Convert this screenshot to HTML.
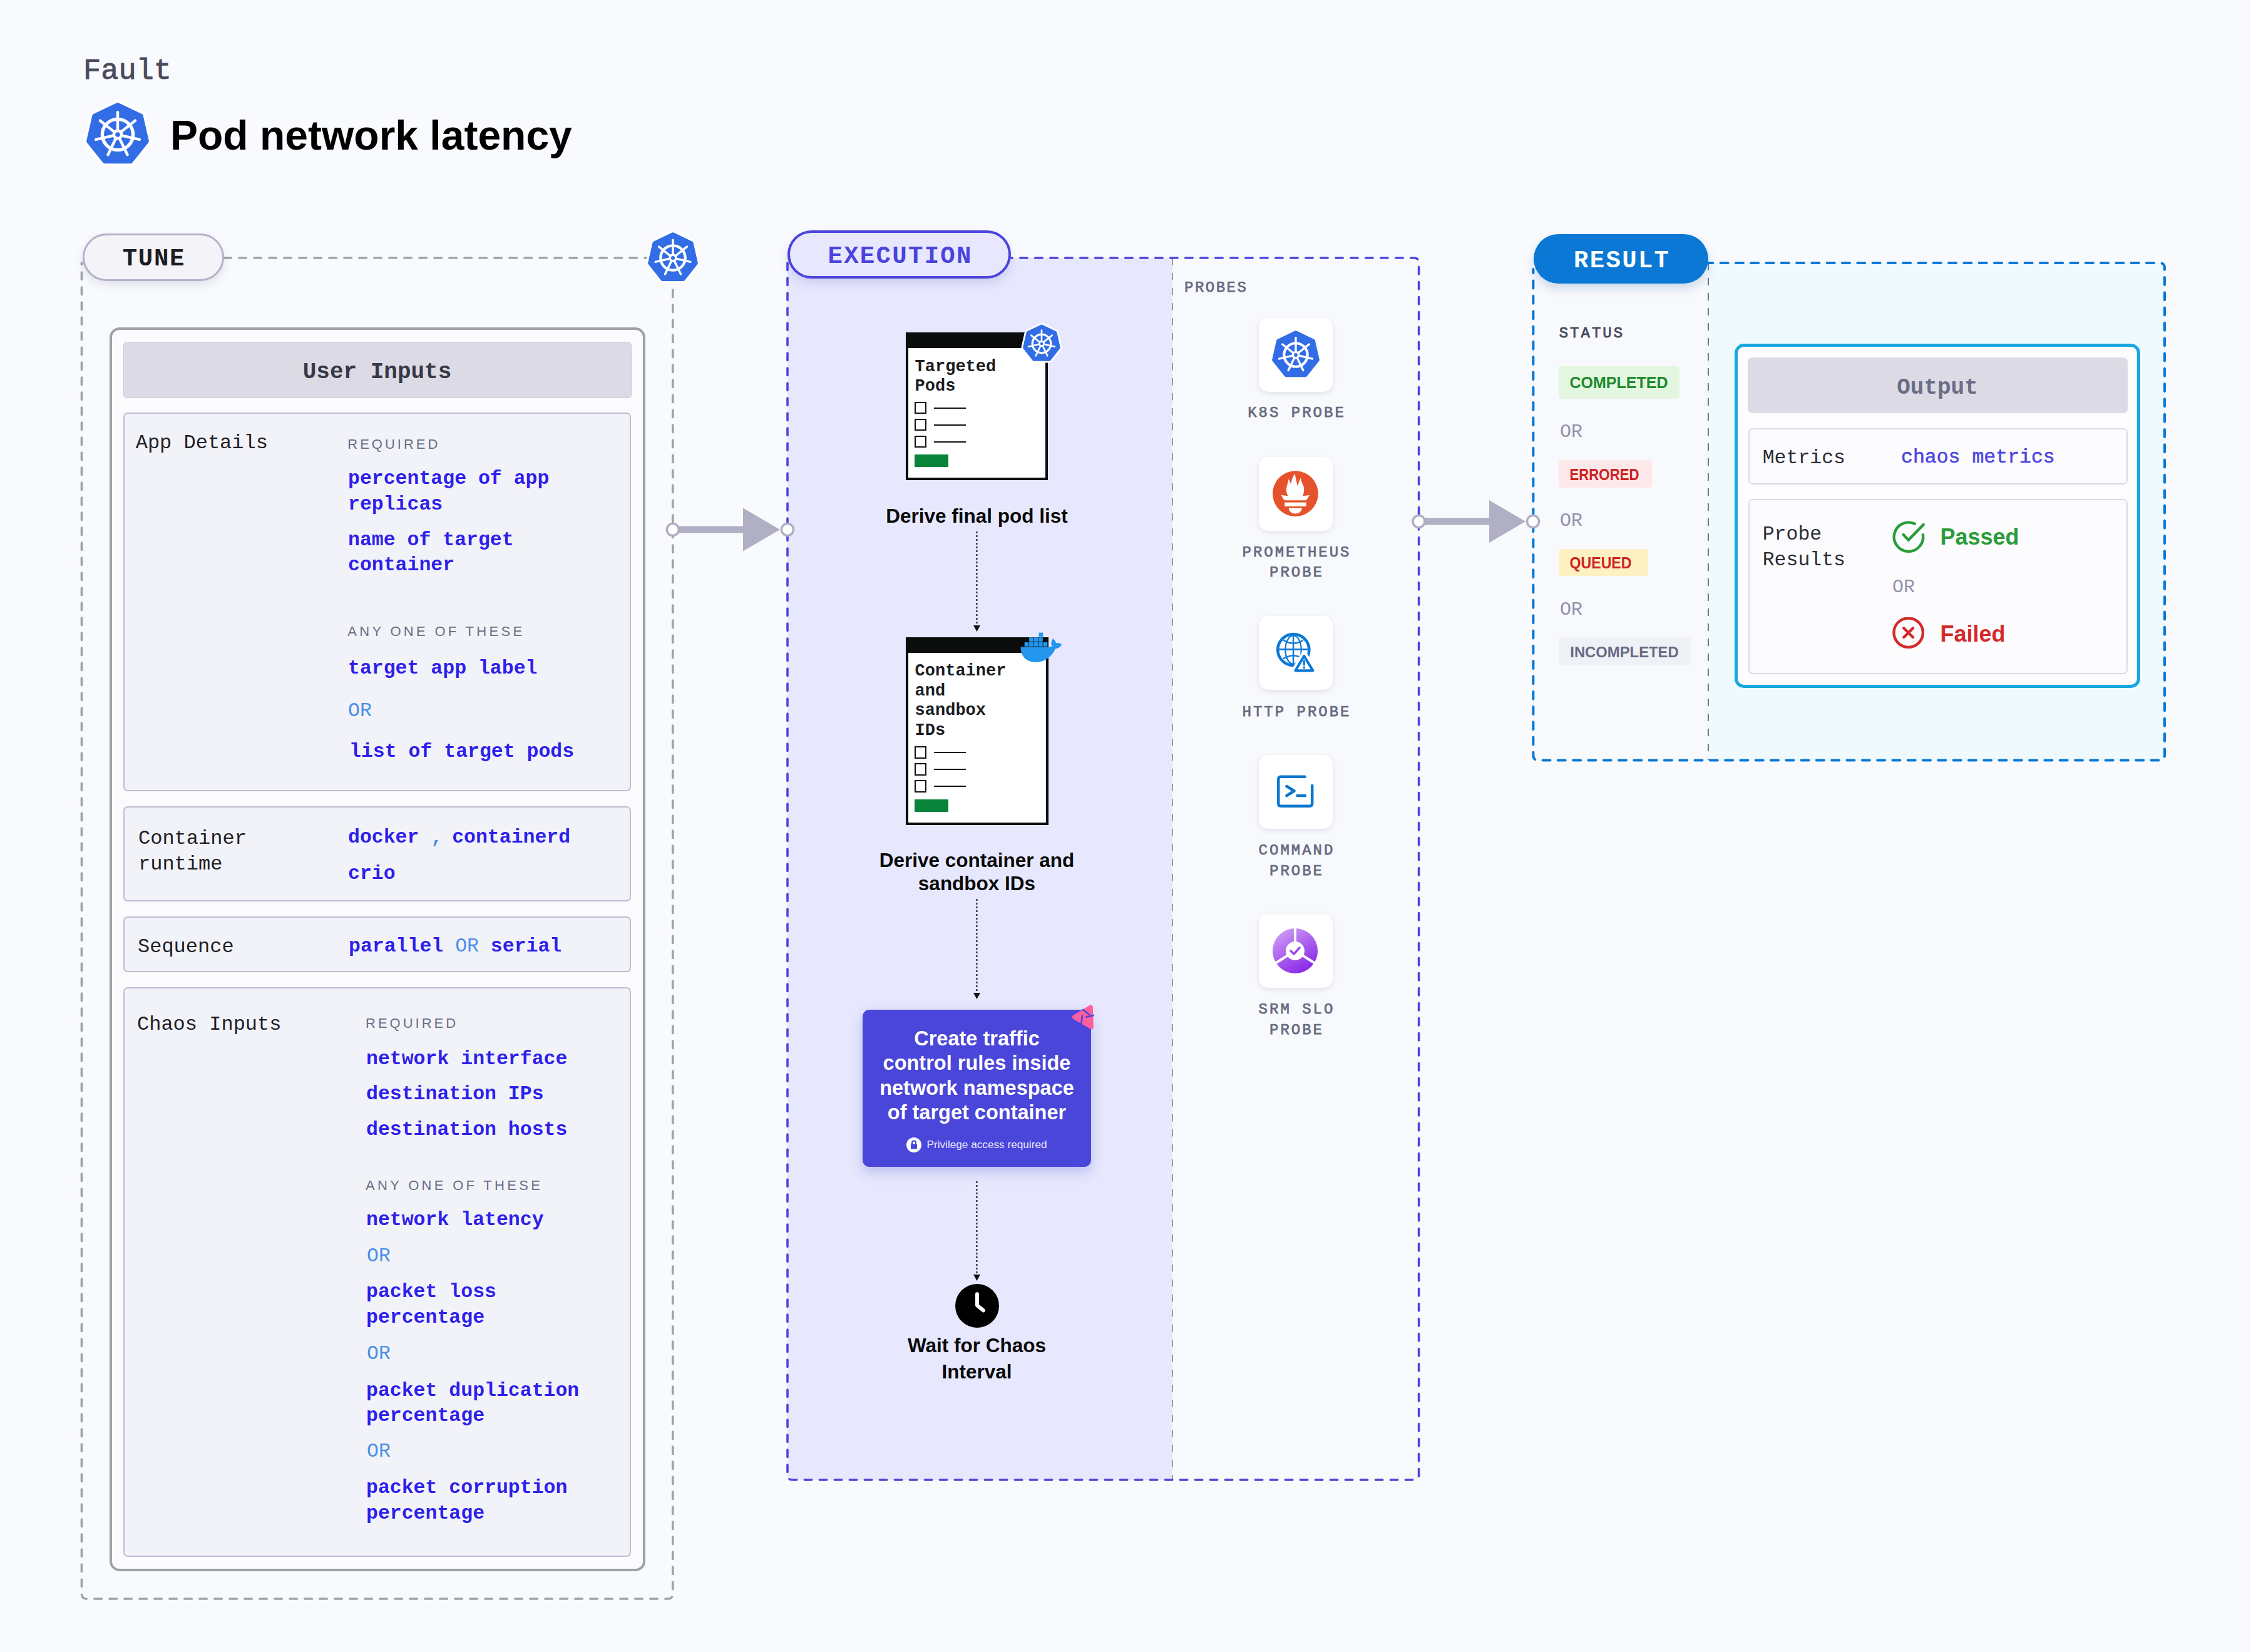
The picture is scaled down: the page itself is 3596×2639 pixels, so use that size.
<!DOCTYPE html>
<html><head><meta charset="utf-8"><style>
html,body{margin:0;padding:0;}
body{width:3596px;height:2639px;background:#f9fafe;position:relative;overflow:hidden;font-family:"Liberation Sans", sans-serif;}
.t{position:absolute;line-height:1;white-space:pre;}
.b{position:absolute;}
</style></head><body>
<div class="t" style="left:133.0px;top:90.0px;font-family:'Liberation Mono', monospace;font-size:47px;font-weight:400;color:#4a4b5c;letter-spacing:0px;-webkit-text-stroke:0.9px #4a4b5c;">Fault</div>
<svg class="b" style="left:138.0px;top:165.0px;width:100px;height:100px;overflow:visible" viewBox="-50 -50 100 100"><polygon points="0.00,-47.00 36.75,-29.30 45.82,10.46 20.39,42.35 -20.39,42.35 -45.82,10.46 -36.75,-29.30" fill="#fff" stroke="#fff" stroke-width="17" stroke-linejoin="round"/><polygon points="0.00,-47.00 36.75,-29.30 45.82,10.46 20.39,42.35 -20.39,42.35 -45.82,10.46 -36.75,-29.30" fill="#326de6" stroke="#326de6" stroke-width="8" stroke-linejoin="round"/><g stroke="#fff" fill="none" stroke-linecap="round"><circle r="24.6" stroke-width="5.4"/><g stroke-width="4.4"><line x1="0" y1="-7" x2="0" y2="-35.8" transform="rotate(0.00)"/><line x1="0" y1="-7" x2="0" y2="-35.8" transform="rotate(51.43)"/><line x1="0" y1="-7" x2="0" y2="-35.8" transform="rotate(102.86)"/><line x1="0" y1="-7" x2="0" y2="-35.8" transform="rotate(154.29)"/><line x1="0" y1="-7" x2="0" y2="-35.8" transform="rotate(205.71)"/><line x1="0" y1="-7" x2="0" y2="-35.8" transform="rotate(257.14)"/><line x1="0" y1="-7" x2="0" y2="-35.8" transform="rotate(308.57)"/></g></g><circle r="8.5" fill="#fff"/><circle r="3.8" fill="#326de6"/></svg>
<div class="t" style="left:272.0px;top:183.1px;font-family:'Liberation Sans', sans-serif;font-size:66px;font-weight:700;color:#000;letter-spacing:0px;">Pod network latency</div>
<svg class="b" style="left:0;top:0;width:3596px;height:2639px"><path d="M358 412 L1074.8 412 L1074.8 2546 Q1074.8 2554 1066.8 2554 L138.5 2554 Q130.5 2554 130.5 2546 L130.5 420" fill="none" stroke="#9ea3a9" stroke-width="3.7" stroke-dasharray="11.3 12.7" stroke-linecap="round"/></svg>
<div class="b" style="left:175px;top:523px;width:856px;height:1987px;border:4px solid #9ea2a8;border-radius:16px;background:#fbfbfe;box-sizing:border-box;"></div>
<div class="b" style="left:197px;top:546px;width:812px;height:90px;border:1.5px solid #c9c8d6;border-radius:6px;background:#dcdbe5;box-sizing:border-box;"></div>
<div class="t" style="left:-397.5px;width:2000px;text-align:center;top:577.2px;font-family:'Liberation Mono', monospace;font-size:36px;font-weight:700;color:#373845;letter-spacing:0px;">User Inputs</div>
<div class="b" style="left:197px;top:659px;width:811px;height:605px;border:2px solid #bdbccf;border-radius:7px;background:#f2f3f9;box-sizing:border-box;"></div>
<div class="b" style="left:197px;top:1288px;width:811px;height:152px;border:2px solid #bdbccf;border-radius:7px;background:#f2f3f9;box-sizing:border-box;"></div>
<div class="b" style="left:197px;top:1464px;width:811px;height:89px;border:2px solid #bdbccf;border-radius:7px;background:#f2f3f9;box-sizing:border-box;"></div>
<div class="b" style="left:197px;top:1577px;width:811px;height:910px;border:2px solid #bdbccf;border-radius:7px;background:#f2f3f9;box-sizing:border-box;"></div>
<div class="t" style="left:216.7px;top:692.1px;font-family:'Liberation Mono', monospace;font-size:32px;font-weight:400;color:#1f2024;letter-spacing:0px;">App Details</div>
<div class="t" style="left:555.3px;top:699.2px;font-family:'Liberation Sans', sans-serif;font-size:22px;font-weight:400;color:#6b6e84;letter-spacing:4.0px;">REQUIRED</div>
<div class="t" style="left:556.0px;top:749.2px;font-family:'Liberation Mono', monospace;font-size:31.5px;font-weight:700;color:#2e1fea;letter-spacing:0px;">percentage of app</div>
<div class="t" style="left:556.0px;top:789.9px;font-family:'Liberation Mono', monospace;font-size:31.5px;font-weight:700;color:#2e1fea;letter-spacing:0px;">replicas</div>
<div class="t" style="left:556.0px;top:846.6px;font-family:'Liberation Mono', monospace;font-size:31.5px;font-weight:700;color:#2e1fea;letter-spacing:0px;">name of target</div>
<div class="t" style="left:556.0px;top:887.4px;font-family:'Liberation Mono', monospace;font-size:31.5px;font-weight:700;color:#2e1fea;letter-spacing:0px;">container</div>
<div class="t" style="left:555.3px;top:998.4px;font-family:'Liberation Sans', sans-serif;font-size:22px;font-weight:400;color:#6b6e84;letter-spacing:4.3px;">ANY ONE OF THESE</div>
<div class="t" style="left:556.0px;top:1052.2px;font-family:'Liberation Mono', monospace;font-size:31.5px;font-weight:700;color:#2e1fea;letter-spacing:0px;">target app label</div>
<div class="t" style="left:556.0px;top:1119.9px;font-family:'Liberation Mono', monospace;font-size:31.5px;font-weight:400;color:#4a8fe6;letter-spacing:0px;">OR</div>
<div class="t" style="left:558.0px;top:1185.4px;font-family:'Liberation Mono', monospace;font-size:31.5px;font-weight:700;color:#2e1fea;letter-spacing:0px;">list of target pods</div>
<div class="t" style="left:221.0px;top:1323.8px;font-family:'Liberation Mono', monospace;font-size:32px;font-weight:400;color:#1f2024;letter-spacing:0px;">Container</div>
<div class="t" style="left:221.0px;top:1364.5px;font-family:'Liberation Mono', monospace;font-size:32px;font-weight:400;color:#1f2024;letter-spacing:0px;">runtime</div>
<div class="t" style="left:556.0px;top:1321.9px;font-family:'Liberation Mono', monospace;font-size:31.5px;font-weight:700;color:#2e1fea;letter-spacing:0px;">docker <span style="color:#4a8fe6;font-weight:700;letter-spacing:-4px">,</span> containerd</div>
<div class="t" style="left:556.0px;top:1379.9px;font-family:'Liberation Mono', monospace;font-size:31.5px;font-weight:700;color:#2e1fea;letter-spacing:0px;">crio</div>
<div class="t" style="left:220.0px;top:1496.5px;font-family:'Liberation Mono', monospace;font-size:32px;font-weight:400;color:#1f2024;letter-spacing:0px;">Sequence</div>
<div class="t" style="left:557.0px;top:1495.9px;font-family:'Liberation Mono', monospace;font-size:31.5px;font-weight:700;color:#2e1fea;letter-spacing:0px;">parallel <span style="color:#4a8fe6;font-weight:400">OR</span> serial</div>
<div class="t" style="left:219.0px;top:1621.2px;font-family:'Liberation Mono', monospace;font-size:32px;font-weight:400;color:#1f2024;letter-spacing:0px;">Chaos Inputs</div>
<div class="t" style="left:584.0px;top:1624.4px;font-family:'Liberation Sans', sans-serif;font-size:22px;font-weight:400;color:#6b6e84;letter-spacing:4.0px;">REQUIRED</div>
<div class="t" style="left:585.0px;top:1676.3px;font-family:'Liberation Mono', monospace;font-size:31.5px;font-weight:700;color:#2e1fea;letter-spacing:0px;">network interface</div>
<div class="t" style="left:585.0px;top:1731.9px;font-family:'Liberation Mono', monospace;font-size:31.5px;font-weight:700;color:#2e1fea;letter-spacing:0px;">destination IPs</div>
<div class="t" style="left:585.0px;top:1788.7px;font-family:'Liberation Mono', monospace;font-size:31.5px;font-weight:700;color:#2e1fea;letter-spacing:0px;">destination hosts</div>
<div class="t" style="left:584.0px;top:1883.4px;font-family:'Liberation Sans', sans-serif;font-size:22px;font-weight:400;color:#6b6e84;letter-spacing:4.3px;">ANY ONE OF THESE</div>
<div class="t" style="left:585.0px;top:1932.7px;font-family:'Liberation Mono', monospace;font-size:31.5px;font-weight:700;color:#2e1fea;letter-spacing:0px;">network latency</div>
<div class="t" style="left:586.0px;top:1991.3px;font-family:'Liberation Mono', monospace;font-size:31.5px;font-weight:400;color:#4a8fe6;letter-spacing:0px;">OR</div>
<div class="t" style="left:585.0px;top:2047.9px;font-family:'Liberation Mono', monospace;font-size:31.5px;font-weight:700;color:#2e1fea;letter-spacing:0px;">packet loss</div>
<div class="t" style="left:585.0px;top:2088.9px;font-family:'Liberation Mono', monospace;font-size:31.5px;font-weight:700;color:#2e1fea;letter-spacing:0px;">percentage</div>
<div class="t" style="left:586.0px;top:2146.9px;font-family:'Liberation Mono', monospace;font-size:31.5px;font-weight:400;color:#4a8fe6;letter-spacing:0px;">OR</div>
<div class="t" style="left:585.0px;top:2205.6px;font-family:'Liberation Mono', monospace;font-size:31.5px;font-weight:700;color:#2e1fea;letter-spacing:0px;">packet duplication</div>
<div class="t" style="left:585.0px;top:2245.9px;font-family:'Liberation Mono', monospace;font-size:31.5px;font-weight:700;color:#2e1fea;letter-spacing:0px;">percentage</div>
<div class="t" style="left:586.0px;top:2302.9px;font-family:'Liberation Mono', monospace;font-size:31.5px;font-weight:400;color:#4a8fe6;letter-spacing:0px;">OR</div>
<div class="t" style="left:585.0px;top:2361.3px;font-family:'Liberation Mono', monospace;font-size:31.5px;font-weight:700;color:#2e1fea;letter-spacing:0px;">packet corruption</div>
<div class="t" style="left:585.0px;top:2401.6px;font-family:'Liberation Mono', monospace;font-size:31.5px;font-weight:700;color:#2e1fea;letter-spacing:0px;">percentage</div>
<div class="b" style="left:132px;top:373px;width:226px;height:76px;border:3.5px solid #b3b1c8;border-radius:40px;background:#f3f3f8;box-sizing:border-box;box-shadow:0 6px 14px rgba(60,60,90,0.12);"></div>
<div class="t" style="left:-754.1px;width:2000px;text-align:center;top:395.1px;font-family:'Liberation Mono', monospace;font-size:39px;font-weight:700;color:#1c1d22;letter-spacing:1.7px;">TUNE</div>
<svg class="b" style="left:1034.5px;top:372.0px;width:80px;height:80px;overflow:visible" viewBox="-50 -50 100 100"><polygon points="0.00,-47.00 36.75,-29.30 45.82,10.46 20.39,42.35 -20.39,42.35 -45.82,10.46 -36.75,-29.30" fill="#fff" stroke="#fff" stroke-width="17" stroke-linejoin="round"/><polygon points="0.00,-47.00 36.75,-29.30 45.82,10.46 20.39,42.35 -20.39,42.35 -45.82,10.46 -36.75,-29.30" fill="#326de6" stroke="#326de6" stroke-width="8" stroke-linejoin="round"/><g stroke="#fff" fill="none" stroke-linecap="round"><circle r="24.6" stroke-width="5.4"/><g stroke-width="4.4"><line x1="0" y1="-7" x2="0" y2="-35.8" transform="rotate(0.00)"/><line x1="0" y1="-7" x2="0" y2="-35.8" transform="rotate(51.43)"/><line x1="0" y1="-7" x2="0" y2="-35.8" transform="rotate(102.86)"/><line x1="0" y1="-7" x2="0" y2="-35.8" transform="rotate(154.29)"/><line x1="0" y1="-7" x2="0" y2="-35.8" transform="rotate(205.71)"/><line x1="0" y1="-7" x2="0" y2="-35.8" transform="rotate(257.14)"/><line x1="0" y1="-7" x2="0" y2="-35.8" transform="rotate(308.57)"/></g></g><circle r="8.5" fill="#fff"/><circle r="3.8" fill="#326de6"/></svg>
<svg class="b" style="left:0;top:0;width:3596px;height:2639px"><rect x="1258" y="412" width="615" height="1952" fill="#e7e8fd"/><rect x="1873" y="412" width="393.6" height="1952" fill="#f8f9fc"/><line x1="1873" y1="412" x2="1873" y2="2364" stroke="#8e8ea0" stroke-width="1.8" stroke-dasharray="11.6 12.4"/><path d="M1258 420 L1258 2356 Q1258 2364 1266 2364 L2258.6 2364 Q2266.6 2364 2266.6 2356 L2266.6 420 Q2266.6 412 2258.6 412 L1600 412" fill="none" stroke="#4b44dc" stroke-width="3.6" stroke-dasharray="11.4 12.6" stroke-linecap="round"/></svg>
<div class="b" style="left:1258px;top:368px;width:357px;height:77px;border:4px solid #4b44dc;border-radius:40px;background:#e7e8fd;box-sizing:border-box;box-shadow:0 8px 16px rgba(60,50,160,0.14);"></div>
<div class="t" style="left:438.1px;width:2000px;text-align:center;top:390.7px;font-family:'Liberation Mono', monospace;font-size:39px;font-weight:700;color:#4b44dc;letter-spacing:2.3px;">EXECUTION</div>
<div class="b" style="left:1446.5px;top:531px;width:227.5px;height:236px;border:4px solid #0b0c0c;border-top:25px solid #0b0c0c;background:#fff;box-sizing:border-box;"></div>
<div class="t" style="left:1461.6px;top:572.5px;font-family:'Liberation Mono', monospace;font-size:27px;font-weight:700;color:#1d1d1f;letter-spacing:0px;">Targeted</div>
<div class="t" style="left:1461.6px;top:603.8px;font-family:'Liberation Mono', monospace;font-size:27px;font-weight:700;color:#1d1d1f;letter-spacing:0px;">Pods</div>
<div class="b" style="left:1460.8px;top:641.5px;width:19.5px;height:19.5px;border:2.5px solid #111;box-sizing:border-box;"></div>
<div class="b" style="left:1491.8px;top:650.5px;width:51.0px;height:2.0px;background:#111;"></div>
<div class="b" style="left:1460.8px;top:668.5px;width:19.5px;height:19.5px;border:2.5px solid #111;box-sizing:border-box;"></div>
<div class="b" style="left:1491.8px;top:677.5px;width:51.0px;height:2.0px;background:#111;"></div>
<div class="b" style="left:1460.8px;top:695.5px;width:19.5px;height:19.5px;border:2.5px solid #111;box-sizing:border-box;"></div>
<div class="b" style="left:1491.8px;top:704.5px;width:51.0px;height:2.0px;background:#111;"></div>
<div class="b" style="left:1460.8px;top:726px;width:54.0px;height:20px;background:#07843a;"></div>
<svg class="b" style="left:1633.6px;top:518.5px;width:60px;height:60px;overflow:visible" viewBox="-50 -50 100 100"><polygon points="0.00,-47.00 36.75,-29.30 45.82,10.46 20.39,42.35 -20.39,42.35 -45.82,10.46 -36.75,-29.30" fill="#fff" stroke="#fff" stroke-width="17" stroke-linejoin="round"/><polygon points="0.00,-47.00 36.75,-29.30 45.82,10.46 20.39,42.35 -20.39,42.35 -45.82,10.46 -36.75,-29.30" fill="#326de6" stroke="#326de6" stroke-width="8" stroke-linejoin="round"/><g stroke="#fff" fill="none" stroke-linecap="round"><circle r="24.6" stroke-width="5.4"/><g stroke-width="4.4"><line x1="0" y1="-7" x2="0" y2="-35.8" transform="rotate(0.00)"/><line x1="0" y1="-7" x2="0" y2="-35.8" transform="rotate(51.43)"/><line x1="0" y1="-7" x2="0" y2="-35.8" transform="rotate(102.86)"/><line x1="0" y1="-7" x2="0" y2="-35.8" transform="rotate(154.29)"/><line x1="0" y1="-7" x2="0" y2="-35.8" transform="rotate(205.71)"/><line x1="0" y1="-7" x2="0" y2="-35.8" transform="rotate(257.14)"/><line x1="0" y1="-7" x2="0" y2="-35.8" transform="rotate(308.57)"/></g></g><circle r="8.5" fill="#fff"/><circle r="3.8" fill="#326de6"/></svg>
<div class="t" style="left:560.5px;width:2000px;text-align:center;top:808.5px;font-family:'Liberation Sans', sans-serif;font-size:31.5px;font-weight:700;color:#0a0a0a;letter-spacing:0px;">Derive final pod list</div>
<div class="b" style="left:1446.5px;top:1017.6px;width:228.0999999999999px;height:300.4px;border:4px solid #0b0c0c;border-top:25.5px solid #0b0c0c;background:#fff;box-sizing:border-box;"></div>
<div class="t" style="left:1461.6px;top:1059.3px;font-family:'Liberation Mono', monospace;font-size:27px;font-weight:700;color:#1d1d1f;letter-spacing:0px;">Container</div>
<div class="t" style="left:1461.6px;top:1090.8px;font-family:'Liberation Mono', monospace;font-size:27px;font-weight:700;color:#1d1d1f;letter-spacing:0px;">and</div>
<div class="t" style="left:1461.6px;top:1122.3px;font-family:'Liberation Mono', monospace;font-size:27px;font-weight:700;color:#1d1d1f;letter-spacing:0px;">sandbox</div>
<div class="t" style="left:1461.6px;top:1154.1px;font-family:'Liberation Mono', monospace;font-size:27px;font-weight:700;color:#1d1d1f;letter-spacing:0px;">IDs</div>
<div class="b" style="left:1460.8px;top:1192px;width:19.5px;height:19.5px;border:2.5px solid #111;box-sizing:border-box;"></div>
<div class="b" style="left:1491.8px;top:1201px;width:51.0px;height:2px;background:#111;"></div>
<div class="b" style="left:1460.8px;top:1219px;width:19.5px;height:19.5px;border:2.5px solid #111;box-sizing:border-box;"></div>
<div class="b" style="left:1491.8px;top:1228px;width:51.0px;height:2px;background:#111;"></div>
<div class="b" style="left:1460.8px;top:1246px;width:19.5px;height:19.5px;border:2.5px solid #111;box-sizing:border-box;"></div>
<div class="b" style="left:1491.8px;top:1255px;width:51.0px;height:2px;background:#111;"></div>
<div class="b" style="left:1460.8px;top:1276.5px;width:54.0px;height:20.0px;background:#07843a;"></div>
<div class="t" style="left:560.5px;width:2000px;text-align:center;top:1358.9px;font-family:'Liberation Sans', sans-serif;font-size:31.5px;font-weight:700;color:#0a0a0a;letter-spacing:0px;">Derive container and</div>
<div class="t" style="left:560.5px;width:2000px;text-align:center;top:1396.3px;font-family:'Liberation Sans', sans-serif;font-size:31.5px;font-weight:700;color:#0a0a0a;letter-spacing:0px;">sandbox IDs</div>
<svg class="b" style="left:1630px;top:1010px;width:70px;height:50px;overflow:visible" viewBox="0 0 70 50"><path d="M0.4 23.6 H44.7 C47 23.6 49 23.2 50.5 22.6 C48.5 19 49.5 13 52.2 10.3 C55 12.5 56.5 15 57.1 17.3 C60 16.5 64 17.5 66 19.7 C64 23.5 61 25.8 55.9 26.2 C50 40 38 47.8 23.9 47.8 C8 47.8 1 37 0.4 23.6 Z" fill="#2496ed"/><g fill="#2496ed"><rect x="6.60" y="16.00" width="6.7" height="6.7"/><rect x="14.08" y="16.00" width="6.7" height="6.7"/><rect x="21.56" y="16.00" width="6.7" height="6.7"/><rect x="29.04" y="16.00" width="6.7" height="6.7"/><rect x="36.52" y="16.00" width="6.7" height="6.7"/><rect x="14.10" y="8.30" width="6.7" height="6.7"/><rect x="21.58" y="8.30" width="6.7" height="6.7"/><rect x="29.06" y="8.30" width="6.7" height="6.7"/><rect x="29.60" y="0.60" width="6.7" height="6.7"/></g></svg>
<svg class="b" style="left:0;top:0;width:3596px;height:2639px;overflow:visible"><line x1="1560.5" y1="849" x2="1560.5" y2="1000" stroke="#111" stroke-width="2" stroke-dasharray="3 3"/><polygon points="1555.0,999 1566.0,999 1560.5,1009" fill="#111"/></svg>
<svg class="b" style="left:0;top:0;width:3596px;height:2639px;overflow:visible"><line x1="1560.5" y1="1436" x2="1560.5" y2="1587" stroke="#111" stroke-width="2" stroke-dasharray="3 3"/><polygon points="1555.0,1586 1566.0,1586 1560.5,1596" fill="#111"/></svg>
<svg class="b" style="left:0;top:0;width:3596px;height:2639px;overflow:visible"><line x1="1560.5" y1="1887" x2="1560.5" y2="2037" stroke="#111" stroke-width="2" stroke-dasharray="3 3"/><polygon points="1555.0,2036 1566.0,2036 1560.5,2046" fill="#111"/></svg>
<div class="b" style="left:1378px;top:1613px;width:365px;height:251px;background:#4a46d9;border-radius:11px;box-shadow:0 8px 20px rgba(60,56,190,0.25);"></div>
<div class="t" style="left:560.5px;width:2000px;text-align:center;top:1642.5px;font-family:'Liberation Sans', sans-serif;font-size:32.5px;font-weight:700;color:#fff;letter-spacing:0px;">Create traffic</div>
<div class="t" style="left:560.5px;width:2000px;text-align:center;top:1682.3px;font-family:'Liberation Sans', sans-serif;font-size:32.5px;font-weight:700;color:#fff;letter-spacing:0px;">control rules inside</div>
<div class="t" style="left:560.5px;width:2000px;text-align:center;top:1722.1px;font-family:'Liberation Sans', sans-serif;font-size:32.5px;font-weight:700;color:#fff;letter-spacing:0px;">network namespace</div>
<div class="t" style="left:560.5px;width:2000px;text-align:center;top:1761.3px;font-family:'Liberation Sans', sans-serif;font-size:32.5px;font-weight:700;color:#fff;letter-spacing:0px;">of target container</div>
<svg class="b" style="left:1448px;top:1817px;width:24px;height:24px" viewBox="0 0 24 24"><circle cx="12" cy="12" r="12" fill="#fff"/><rect x="7" y="10.5" width="10" height="8" rx="1" fill="#4a46d9"/><path d="M9 11 V8.5 A3 3 0 0 1 15 8.5 V11" fill="none" stroke="#4a46d9" stroke-width="2"/></svg>
<div class="t" style="left:1480.5px;top:1820.4px;font-family:'Liberation Sans', sans-serif;font-size:17.2px;font-weight:400;color:#e8e8ff;letter-spacing:0px;">Privilege access required</div>
<svg class="b" style="left:1700px;top:1595px;width:55px;height:60px;overflow:visible" viewBox="0 0 55 60"><polygon points="42.3,14 16.5,29.7 43.3,45.6" fill="#ff5f9e" stroke="#ff5f9e" stroke-width="7" stroke-linejoin="round"/><g stroke="#4a46d9" stroke-width="2.6" stroke-linecap="round" fill="none"><line x1="29.8" y1="17.9" x2="40" y2="25.5"/><line x1="29" y1="27.2" x2="27.3" y2="41.2"/><line x1="35.3" y1="29.8" x2="46.8" y2="26.9"/></g></svg>
<svg class="b" style="left:1525.5px;top:2051px;width:70px;height:70px" viewBox="0 0 70 70"><circle cx="35" cy="35" r="35" fill="#000"/><path d="M35 16.2 L35 34.2 L45 42.4" fill="none" stroke="#fff" stroke-width="6" stroke-linecap="round" stroke-linejoin="round"/></svg>
<div class="t" style="left:560.5px;width:2000px;text-align:center;top:2134.3px;font-family:'Liberation Sans', sans-serif;font-size:31.5px;font-weight:700;color:#0a0a0a;letter-spacing:0px;">Wait for Chaos</div>
<div class="t" style="left:560.5px;width:2000px;text-align:center;top:2176.3px;font-family:'Liberation Sans', sans-serif;font-size:31.5px;font-weight:700;color:#0a0a0a;letter-spacing:0px;">Interval</div>
<div class="t" style="left:1892.0px;top:448.4px;font-family:'Liberation Mono', monospace;font-size:24px;font-weight:400;color:#666a80;letter-spacing:2.5px;-webkit-text-stroke:0.75px #666a80;">PROBES</div>
<div class="b" style="left:2010.5px;top:507.6px;width:118.0px;height:118.0px;background:#fff;border-radius:15px;box-shadow:0 3px 8px rgba(40,40,80,0.10);"></div>
<div class="b" style="left:2010.5px;top:730px;width:118.0px;height:118px;background:#fff;border-radius:15px;box-shadow:0 3px 8px rgba(40,40,80,0.10);"></div>
<div class="b" style="left:2010.5px;top:984px;width:118.0px;height:118px;background:#fff;border-radius:15px;box-shadow:0 3px 8px rgba(40,40,80,0.10);"></div>
<div class="b" style="left:2010.5px;top:1206px;width:118.0px;height:118px;background:#fff;border-radius:15px;box-shadow:0 3px 8px rgba(40,40,80,0.10);"></div>
<div class="b" style="left:2010.5px;top:1460px;width:118.0px;height:118px;background:#fff;border-radius:15px;box-shadow:0 3px 8px rgba(40,40,80,0.10);"></div>
<svg class="b" style="left:2031.5px;top:529.0px;width:76px;height:76px;overflow:visible" viewBox="-50 -50 100 100"><polygon points="0.00,-47.00 36.75,-29.30 45.82,10.46 20.39,42.35 -20.39,42.35 -45.82,10.46 -36.75,-29.30" fill="#fff" stroke="#fff" stroke-width="17" stroke-linejoin="round"/><polygon points="0.00,-47.00 36.75,-29.30 45.82,10.46 20.39,42.35 -20.39,42.35 -45.82,10.46 -36.75,-29.30" fill="#326de6" stroke="#326de6" stroke-width="8" stroke-linejoin="round"/><g stroke="#fff" fill="none" stroke-linecap="round"><circle r="24.6" stroke-width="5.4"/><g stroke-width="4.4"><line x1="0" y1="-7" x2="0" y2="-35.8" transform="rotate(0.00)"/><line x1="0" y1="-7" x2="0" y2="-35.8" transform="rotate(51.43)"/><line x1="0" y1="-7" x2="0" y2="-35.8" transform="rotate(102.86)"/><line x1="0" y1="-7" x2="0" y2="-35.8" transform="rotate(154.29)"/><line x1="0" y1="-7" x2="0" y2="-35.8" transform="rotate(205.71)"/><line x1="0" y1="-7" x2="0" y2="-35.8" transform="rotate(257.14)"/><line x1="0" y1="-7" x2="0" y2="-35.8" transform="rotate(308.57)"/></g></g><circle r="8.5" fill="#fff"/><circle r="3.8" fill="#326de6"/></svg>
<div class="t" style="left:1071.5px;width:2000px;text-align:center;top:648.4px;font-family:'Liberation Mono', monospace;font-size:24px;font-weight:400;color:#666a80;letter-spacing:3px;-webkit-text-stroke:0.75px #666a80;">K8S PROBE</div>
<svg class="b" style="left:2033.1px;top:752.4px;width:72.8px;height:73.2px" viewBox="148 135 1337 1345"><circle cx="816.5" cy="807.5" r="668.5" fill="#e6522c"/><path d="M605 880 C555 800 540 700 555 640 C575 560 600 470 615 380 C650 430 675 490 685 545 C700 440 720 330 805 218 C810 330 860 470 885 600 C900 510 930 420 975 340 C985 440 1030 520 1060 600 C1080 700 1070 800 1025 880 L1230 845 C1200 910 1170 960 1130 1005 L500 1005 C460 960 430 910 400 845 Z" fill="#fff"/><rect x="500" y="1065" width="635" height="115" fill="#fff"/><path d="M620 1235 H1010 A195 160 0 0 1 620 1235 Z" fill="#fff"/></svg>
<div class="t" style="left:1071.5px;width:2000px;text-align:center;top:870.9px;font-family:'Liberation Mono', monospace;font-size:24px;font-weight:400;color:#666a80;letter-spacing:3px;-webkit-text-stroke:0.75px #666a80;">PROMETHEUS</div>
<div class="t" style="left:1071.5px;width:2000px;text-align:center;top:903.2px;font-family:'Liberation Mono', monospace;font-size:24px;font-weight:400;color:#666a80;letter-spacing:3px;-webkit-text-stroke:0.75px #666a80;">PROBE</div>
<svg class="b" style="left:2030px;top:1000px;width:80px;height:80px" viewBox="0 0 1652 1652"><g fill="none" stroke="#0b78d6"><circle cx="750" cy="785" r="517" stroke-width="95"/><ellipse cx="745" cy="785" rx="262" ry="470" stroke-width="46"/><line x1="745" y1="300" x2="745" y2="1270" stroke-width="50"/><line x1="260" y1="772" x2="1240" y2="772" stroke-width="55"/><path d="M420 470 Q745 670 1070 470" stroke-width="46"/><path d="M410 1080 Q745 880 1080 1080" stroke-width="46"/></g><path d="M1100 960 L1410 1480 L800 1480 Z" fill="#fff" stroke="#fff" stroke-width="230" stroke-linejoin="round"/><path d="M1100 990 L1390 1470 L815 1470 Z" fill="#fff" stroke="#0b78d6" stroke-width="85" stroke-linejoin="round"/><rect x="1068" y="1128" width="66" height="175" fill="#0b78d6"/><circle cx="1100" cy="1365" r="40" fill="#0b78d6"/></svg>
<div class="t" style="left:1071.5px;width:2000px;text-align:center;top:1126.0px;font-family:'Liberation Mono', monospace;font-size:24px;font-weight:400;color:#666a80;letter-spacing:3px;-webkit-text-stroke:0.75px #666a80;">HTTP PROBE</div>
<svg class="b" style="left:2038px;top:1236px;width:64px;height:56px" viewBox="0 0 64 56"><path d="M46.6 4.8 L8.3 4.8 Q4.3 4.8 4.3 8.8 L4.3 47.8 Q4.3 51.8 8.3 51.8 L54.2 51.8 Q58.2 51.8 58.2 47.8 L58.2 19" fill="none" stroke="#0b78d0" stroke-width="4.5" stroke-linecap="round"/><path d="M17.5 20 L29.5 27.5 L17.5 35" fill="none" stroke="#0b78d0" stroke-width="4.5" stroke-linecap="round" stroke-linejoin="round"/><line x1="34.5" y1="35" x2="47" y2="35" stroke="#0b78d0" stroke-width="4.5" stroke-linecap="round"/></svg>
<div class="t" style="left:1071.5px;width:2000px;text-align:center;top:1347.1px;font-family:'Liberation Mono', monospace;font-size:24px;font-weight:400;color:#666a80;letter-spacing:3px;-webkit-text-stroke:0.75px #666a80;">COMMAND</div>
<div class="t" style="left:1071.5px;width:2000px;text-align:center;top:1379.6px;font-family:'Liberation Mono', monospace;font-size:24px;font-weight:400;color:#666a80;letter-spacing:3px;-webkit-text-stroke:0.75px #666a80;">PROBE</div>
<svg class="b" style="left:2033px;top:1483px;width:72px;height:72px" viewBox="0 0 72 72"><defs><linearGradient id="sg" x1="0" y1="0" x2="0.6" y2="1"><stop offset="0" stop-color="#d6a8f5"/><stop offset="1" stop-color="#8a2be8"/></linearGradient></defs><circle cx="36" cy="36" r="36" fill="url(#sg)"/><g stroke="#fff" stroke-width="4"><line x1="36" y1="0" x2="36" y2="24"/><line x1="26" y1="42" x2="4" y2="56"/><line x1="46" y1="42" x2="68" y2="56"/></g><circle cx="36" cy="36" r="15" fill="#fff"/><path d="M29 36 L34 41 L43 31" fill="none" stroke="#9b4ae8" stroke-width="3.5" stroke-linecap="round" stroke-linejoin="round"/></svg>
<div class="t" style="left:1071.5px;width:2000px;text-align:center;top:1601.4px;font-family:'Liberation Mono', monospace;font-size:24px;font-weight:400;color:#666a80;letter-spacing:3px;-webkit-text-stroke:0.75px #666a80;">SRM SLO</div>
<div class="t" style="left:1071.5px;width:2000px;text-align:center;top:1634.1px;font-family:'Liberation Mono', monospace;font-size:24px;font-weight:400;color:#666a80;letter-spacing:3px;-webkit-text-stroke:0.75px #666a80;">PROBE</div>
<svg class="b" style="left:0;top:0;width:3596px;height:2639px"><rect x="2449.4" y="420" width="279.6" height="794.4" fill="#f8f9fc"/><rect x="2729" y="420" width="729" height="794.4" fill="#effafe"/><line x1="2729" y1="420" x2="2729" y2="1214" stroke="#5d5f78" stroke-width="1.7" stroke-dasharray="12 12"/><path d="M2700 420 L3450 420 Q3458 420 3458 428 L3458 1206.4 Q3458 1214.4 3450 1214.4 L2457.4 1214.4 Q2449.4 1214.4 2449.4 1206.4 L2449.4 430" fill="none" stroke="#0b78d4" stroke-width="4" stroke-dasharray="12 12.3" stroke-linecap="round"/></svg>
<div class="b" style="left:2450px;top:374px;width:279px;height:79px;background:#0a78d4;border-radius:40px;box-shadow:0 8px 16px rgba(10,80,160,0.18);"></div>
<div class="t" style="left:1591.2px;width:2000px;text-align:center;top:398.1px;font-family:'Liberation Mono', monospace;font-size:39px;font-weight:700;color:#fff;letter-spacing:2.3px;">RESULT</div>
<div class="t" style="left:2490.7px;top:521.1px;font-family:'Liberation Mono', monospace;font-size:24px;font-weight:400;color:#474a5c;letter-spacing:3px;-webkit-text-stroke:0.8px #474a5c;">STATUS</div>
<div class="b" style="left:2489.6px;top:585px;width:193.9000000000001px;height:52.39999999999998px;background:#e3f6e0;border-radius:5px;"></div>
<div class="t" style="left:1586.0px;width:2000px;text-align:center;top:598.6px;font-family:'Liberation Sans', sans-serif;font-size:25px;font-weight:700;color:#1f8a2e;letter-spacing:0px;transform:scaleX(1.0);">COMPLETED</div>
<div class="t" style="left:2492.0px;top:675.0px;font-family:'Liberation Mono', monospace;font-size:30px;font-weight:400;color:#9293ab;letter-spacing:0px;">OR</div>
<div class="b" style="left:2489.6px;top:735px;width:149.4000000000001px;height:44px;background:#fde8e9;border-radius:5px;"></div>
<div class="t" style="left:1563.0px;width:2000px;text-align:center;top:745.8px;font-family:'Liberation Sans', sans-serif;font-size:25px;font-weight:700;color:#cf2222;letter-spacing:0px;transform:scaleX(0.888);">ERRORED</div>
<div class="t" style="left:2492.0px;top:817.0px;font-family:'Liberation Mono', monospace;font-size:30px;font-weight:400;color:#9293ab;letter-spacing:0px;">OR</div>
<div class="b" style="left:2489.6px;top:877px;width:143.4000000000001px;height:43px;background:#fdf0c3;border-radius:5px;"></div>
<div class="t" style="left:1557.0px;width:2000px;text-align:center;top:887.2px;font-family:'Liberation Sans', sans-serif;font-size:25px;font-weight:700;color:#cf2222;letter-spacing:0px;transform:scaleX(0.925);">QUEUED</div>
<div class="t" style="left:2492.0px;top:958.7px;font-family:'Liberation Mono', monospace;font-size:30px;font-weight:400;color:#9293ab;letter-spacing:0px;">OR</div>
<div class="b" style="left:2489.6px;top:1017.5px;width:212.0px;height:44.0px;background:#f0f1f7;border-radius:5px;"></div>
<div class="t" style="left:1594.5px;width:2000px;text-align:center;top:1030.2px;font-family:'Liberation Sans', sans-serif;font-size:24px;font-weight:700;color:#666a82;letter-spacing:0px;transform:scaleX(0.993);">INCOMPLETED</div>
<div class="b" style="left:2770.5px;top:549px;width:648.5px;height:550px;border:5px solid #18a8e0;border-radius:15px;background:#fdfdff;box-sizing:border-box;"></div>
<div class="b" style="left:2792px;top:571.4px;width:606.5999999999999px;height:88.60000000000002px;background:#dcdbe5;border-radius:7px;"></div>
<div class="t" style="left:2095.0px;width:2000px;text-align:center;top:602.4px;font-family:'Liberation Mono', monospace;font-size:36px;font-weight:700;color:#6b6d85;letter-spacing:0px;">Output</div>
<div class="b" style="left:2792.6px;top:684px;width:606.0px;height:89.60000000000002px;border:2px solid #dcdbe4;border-radius:7px;background:#fcfcfe;box-sizing:border-box;"></div>
<div class="b" style="left:2792.6px;top:797px;width:606.0px;height:279.70000000000005px;border:2px solid #dcdbe4;border-radius:7px;background:#fcfcfe;box-sizing:border-box;"></div>
<div class="t" style="left:2815.7px;top:716.1px;font-family:'Liberation Mono', monospace;font-size:31.5px;font-weight:400;color:#2a2b33;letter-spacing:0px;">Metrics</div>
<div class="t" style="left:3037.0px;top:715.4px;font-family:'Liberation Mono', monospace;font-size:31.5px;font-weight:400;color:#4f46e0;letter-spacing:0px;-webkit-text-stroke:0.6px #4f46e0;">chaos metrics</div>
<div class="t" style="left:2815.7px;top:837.9px;font-family:'Liberation Mono', monospace;font-size:31.5px;font-weight:400;color:#2a2b33;letter-spacing:0px;">Probe</div>
<div class="t" style="left:2815.7px;top:878.9px;font-family:'Liberation Mono', monospace;font-size:31.5px;font-weight:400;color:#2a2b33;letter-spacing:0px;">Results</div>
<svg class="b" style="left:3023px;top:831.5px;width:51px;height:51px;overflow:visible" viewBox="0 0 51 51"><path d="M35.8 4.7 A23.2 23.2 0 1 0 48.9 22.1" fill="none" stroke="#2a9d3a" stroke-width="4.4" stroke-linecap="round"/><path d="M17.7 22.1 L25.7 30.8 L49.7 6.1" fill="none" stroke="#2a9d3a" stroke-width="4.4" stroke-linecap="round" stroke-linejoin="round"/></svg>
<div class="t" style="left:3099.5px;top:839.5px;font-family:'Liberation Sans', sans-serif;font-size:36px;font-weight:700;color:#2a9d3a;letter-spacing:0px;">Passed</div>
<div class="t" style="left:3023.0px;top:923.0px;font-family:'Liberation Mono', monospace;font-size:30px;font-weight:400;color:#9293ab;letter-spacing:0px;">OR</div>
<svg class="b" style="left:3023px;top:985.8px;width:51px;height:51px" viewBox="0 0 51 51"><circle cx="25.7" cy="24.7" r="23.2" fill="none" stroke="#d42a2a" stroke-width="4.4"/><path d="M18.4 17.4 L33 32 M33 17.4 L18.4 32" stroke="#d42a2a" stroke-width="4.4" stroke-linecap="round"/></svg>
<div class="t" style="left:3099.5px;top:994.5px;font-family:'Liberation Sans', sans-serif;font-size:36px;font-weight:700;color:#d42a2a;letter-spacing:0px;">Failed</div>
<svg class="b" style="left:0;top:0;width:3596px;height:2639px;overflow:visible"><rect x="1074.8" y="840.5" width="114.20000000000005" height="11" fill="#b0afc4"/><polygon points="1187,811.5 1246,846 1187,880.5" fill="#b0afc4"/><circle cx="1074.8" cy="846" r="9.5" fill="#fff" stroke="#b0afc4" stroke-width="3.5"/><circle cx="1258" cy="846" r="9.5" fill="#fff" stroke="#b0afc4" stroke-width="3.5"/></svg>
<svg class="b" style="left:0;top:0;width:3596px;height:2639px;overflow:visible"><rect x="2266.5" y="827.5" width="114.5" height="11" fill="#b0afc4"/><polygon points="2379,799.0 2437,833 2379,867.0" fill="#b0afc4"/><circle cx="2266.5" cy="833" r="9.5" fill="#fff" stroke="#b0afc4" stroke-width="3.5"/><circle cx="2449" cy="833" r="9.5" fill="#fff" stroke="#b0afc4" stroke-width="3.5"/></svg>
</body></html>
